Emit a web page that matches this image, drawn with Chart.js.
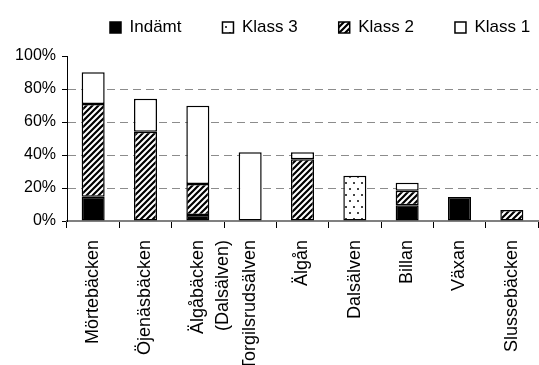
<!DOCTYPE html>
<html>
<head>
<meta charset="utf-8">
<script src="https://cdn.jsdelivr.net/npm/chart.js@4"></script>
<style>
  html, body { margin: 0; padding: 0; background: #fff; }
  #wrap { width: 539px; height: 365px; }
</style>
</head>
<body>
<div id="wrap"><canvas id="c" width="539" height="365"></canvas></div>
<script>
// Share of each watercourse by class (%)
const categories = [
  'Mörtebäcken', 'Öjenäsbäcken', ['Älgåbäcken', '(Dalsälven)'], 'Torgilsrudsälven',
  'Älgån', 'Dalsälven', 'Billan', 'Växan', 'Slussebäcken'
];
const seriesNames = ['Indämt', 'Klass 3', 'Klass 2', 'Klass 1'];
const indamt = [14.7, null, 3.6, null, null, null, 9.5, 14.5, null];
const klass3 = [null, null, null, null, null, 27.5, null, null, null];
const klass2 = [56.2, 54.1, 18.8, null, 37.4, null, 8.9, null, 6.6];
const klass1 = [19.3, 20.0, 47.5, 41.6, 4.2, null, 4.8, null, null];
const yTickValues = [0, 20, 40, 60, 80, 100];

Chart.defaults.font.family = "'Liberation Sans', Arial, sans-serif";
Chart.defaults.color = '#000';

// Fill patterns
function hatchPattern() {
  const s = 6;
  const cv = document.createElement('canvas');
  cv.width = s; cv.height = s;
  const g = cv.getContext('2d');
  g.fillStyle = '#fff';
  g.fillRect(0, 0, s, s);
  g.strokeStyle = '#000';
  g.lineWidth = 2.2;
  g.beginPath();
  g.moveTo(-1, s + 1); g.lineTo(s + 1, -1);
  g.moveTo(-1, 1); g.lineTo(1, -1);
  g.moveTo(s - 1, s + 1); g.lineTo(s + 1, s - 1);
  g.stroke();
  return g.createPattern(cv, 'repeat');
}
function dotPattern() {
  const cv = document.createElement('canvas');
  cv.width = 8; cv.height = 12;
  const g = cv.getContext('2d');
  g.fillStyle = '#fff';
  g.fillRect(0, 0, 8, 12);
  g.fillStyle = '#444';
  g.fillRect(1, 2, 2, 2);
  g.fillRect(5, 8, 2, 2);
  return g.createPattern(cv, 'repeat');
}

const fills = ['#000', dotPattern(), hatchPattern(), '#fff'];
const seriesData = [indamt, klass3, klass2, klass1];

const datasets = seriesNames.map((name, i) => ({
  label: name,
  data: seriesData[i],
  backgroundColor: fills[i],
  borderColor: '#000',
  borderWidth: 1.5,
  borderSkipped: false,
  barPercentage: 0.44,
  categoryPercentage: 1.0
}));

// Place the legend row along the top
const legendPlace = {
  id: 'legendPlace',
  afterLayout(chart) {
    const lg = chart.legend;
    const pad = lg.options.labels.padding;
    lg.left = 110 - pad;
    lg.right = 900;
    lg.top = 28 - pad - 9;
  }
};

new Chart(document.getElementById('c'), {
  type: 'bar',
  data: { labels: categories, datasets },
  plugins: [legendPlace],
  options: {
    responsive: false,
    animation: false,
    layout: { padding: { left: 0, right: 1, top: 0, bottom: 0 } },
    plugins: {
      legend: {
        position: 'top',
        align: 'start',
        maxHeight: 56,
        labels: {
          boxWidth: 11,
          boxHeight: 11,
          padding: 41,
          color: '#000',
          font: { size: 17 }
        }
      },
      tooltip: { enabled: false }
    },
    scales: {
      x: {
        stacked: true,
        grid: {
          offset: true,
          drawOnChartArea: false,
          tickLength: 7,
          tickColor: '#000',
          tickWidth: 1
        },
        border: { color: '#808080', width: 2 },
        ticks: {
          autoSkip: false,
          minRotation: 90,
          maxRotation: 90,
          padding: 12,
          color: '#000',
          font: { size: 18, lineHeight: 1.39 }
        },
        afterFit(s) {
          s.height = 144;
          s.paddingLeft = 0;
          s.paddingRight = 0;
        }
      },
      y: {
        stacked: true,
        min: 0,
        max: 100,
        afterBuildTicks(s) { s.ticks = yTickValues.map(v => ({ value: v })); },
        ticks: {
          callback: v => v + '%',
          color: '#000',
          padding: 6,
          font: { size: 16 }
        },
        grid: {
          color: ctx => (ctx.tick && (ctx.tick.value === 0 || ctx.tick.value === 100)) ? 'rgba(0,0,0,0)' : '#8c8c8c',
          lineWidth: 1,
          tickColor: '#000',
          tickLength: 5,
          tickBorderDash: []
        },
        border: { color: '#000', width: 1, dash: [8, 5] },
        afterFit(s) { s.width = 67; }
      }
    }
  }
});
</script>
</body>
</html>
